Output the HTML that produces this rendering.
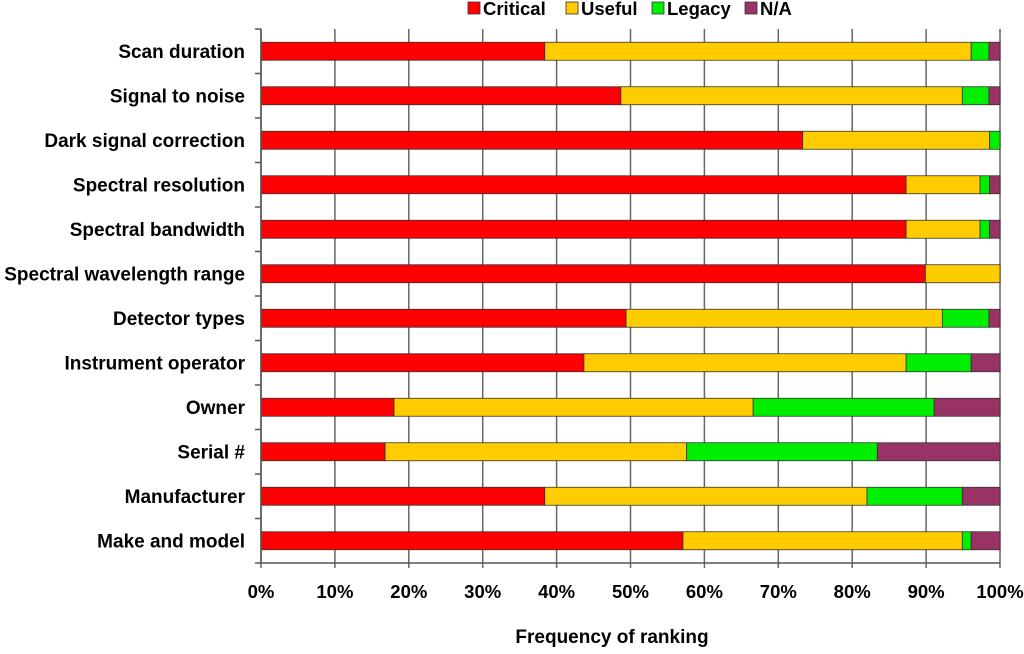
<!DOCTYPE html>
<html><head><meta charset="utf-8"><style>
body{margin:0;background:#fff;font-family:"Liberation Sans",sans-serif}
svg text{font-family:"Liberation Sans",sans-serif;font-weight:bold;fill:#000}
</style></head><body>
<svg id="c" width="1024" height="649"></svg>
<script>
const categories=["Scan duration","Signal to noise","Dark signal correction","Spectral resolution","Spectral bandwidth","Spectral wavelength range","Detector types","Instrument operator","Owner","Serial #","Manufacturer","Make and model"];
const critical=[38.4,48.7,73.3,87.3,87.3,89.9,49.4,43.7,18.0,16.8,38.4,57.1];
const useful=[57.7,46.2,25.3,10.0,10.0,10.1,42.8,43.6,48.6,40.8,43.6,37.8];
const legacy=[2.4,3.6,1.4,1.3,1.3,0,6.3,8.8,24.5,25.8,12.9,1.2];
const na=[1.5,1.5,0,1.4,1.4,0,1.5,3.9,8.9,16.6,5.1,3.9];
const ticks=["0%","10%","20%","30%","40%","50%","60%","70%","80%","90%","100%"];
const seriesNames=["Critical","Useful","Legacy","N/A"];
const colors=["#ff0000","#ffcc00","#00ee00","#993366"];
const svg=document.getElementById('c');const NS="http://www.w3.org/2000/svg";
function mk(t,a,p){const e=document.createElementNS(NS,t);for(const k in a)e.setAttribute(k,a[k]);(p||svg).appendChild(e);return e;}
const x0=261,x1=1000,yTop=29,yBot=563,rowH=(yBot-yTop)/categories.length;
const X=v=>x0+(x1-x0)*v/100;const Y=i=>yTop+rowH*(i+0.5);
ticks.forEach((t,i)=>{const x=X(i*10);
 const g=mk('line',{x1:x,x2:x,y1:yTop,y2:yBot+5,stroke:'#666','stroke-width':1.5});
 
 const tx=mk('text',{x:x,y:598,'text-anchor':'middle','font-size':18.5});tx.textContent=t;
 });
for(let i=0;i<=categories.length;i++){const y=yTop+rowH*i;
 const l=mk('line',{x1:x0-6,x2:x0,y1:y,y2:y,stroke:'#555','stroke-width':1.5});
 }
const data=[critical,useful,legacy,na];
categories.forEach((c,i)=>{let acc=0;
 data.forEach((s,k)=>{if(s[i]>0){const r=mk('rect',{x:X(acc),y:Y(i)-9,width:X(acc+s[i])-X(acc),height:18,fill:colors[k],stroke:'#333','stroke-width':0.8});
  }acc+=s[i];});
 const t=mk('text',{x:245,y:Y(i)+6.5,'text-anchor':'end','font-size':19});t.textContent=c;
 });
const ax=mk('line',{x1:x0,x2:x0,y1:yTop,y2:yBot,stroke:'#555','stroke-width':1.5});
const bx=mk('line',{x1:x0,x2:x1,y1:yBot,y2:yBot,stroke:'#555','stroke-width':1.5});
const xt=mk('text',{x:612,y:643,'text-anchor':'middle','font-size':19});xt.textContent="Frequency of ranking";

const lx=[468,566,652,745];
seriesNames.forEach((n,k)=>{const r=mk('rect',{x:lx[k],y:2,width:12,height:12,fill:colors[k],stroke:'#333','stroke-width':0.8});
 
 const t=mk('text',{x:lx[k]+15,y:15,'font-size':18.5});t.textContent=n;
 });
</script></body></html>
